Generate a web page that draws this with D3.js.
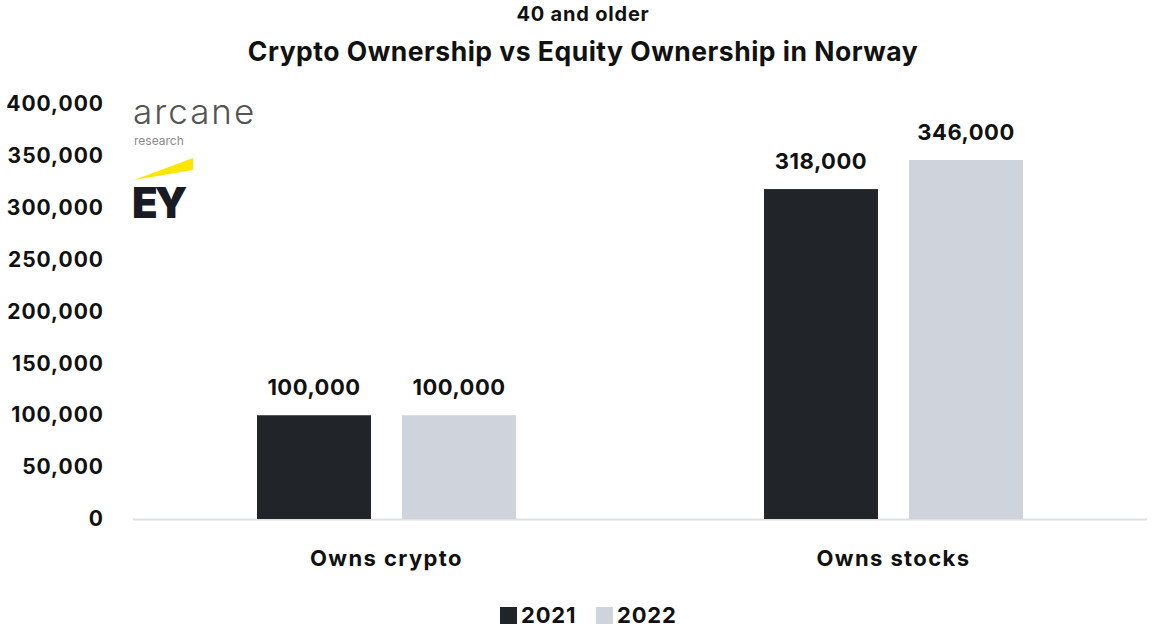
<!DOCTYPE html>
<html>
<head>
<meta charset="utf-8">
<script src="https://cdn.jsdelivr.net/npm/d3@7"></script>
<style>
  html, body { margin: 0; padding: 0; background: #ffffff; }
  svg { display: block; font-family: "Inter", "Noto Sans", sans-serif; }
</style>
</head>
<body>
<svg id="chart" width="1152" height="630"></svg>
<script>
// Ownership counts, Norway, age 40 and older
const categories = ["Owns crypto", "Owns stocks"];
const years = ["2021", "2022"];
const values2021 = [100000, 318000];
const values2022 = [100000, 346000];
const yTicks = [0, 50000, 100000, 150000, 200000, 250000, 300000, 350000, 400000];

const colors = { "2021": "#212429", "2022": "#cfd4dc" };

const svg = d3.select("#chart");
const margin = { left: 133, right: 5, top: 104, bottom: 111 };
const W = 1152, H = 630;

const x0 = d3.scaleBand().domain(categories).range([margin.left, W - margin.right]);
// bar pair sits inside each category band
const x1 = d3.scaleBand().domain(years).range([124, 383]).paddingInner(0.214).paddingOuter(0);
const y = d3.scaleLinear().domain([0, 400000]).range([H - margin.bottom, margin.top]);

// Titles
svg.append("text").attr("x", 583).attr("y", 21).attr("text-anchor", "middle")
  .attr("font-size", 20).attr("font-weight", 700).attr("letter-spacing", 0.8).attr("fill", "#111")
  .text("40 and older");
svg.append("text").attr("x", 583).attr("y", 61).attr("text-anchor", "middle")
  .attr("font-size", 26.5).attr("font-weight", 700).attr("letter-spacing", 0.5).attr("fill", "#111")
  .text("Crypto Ownership vs Equity Ownership in Norway");

// Y axis labels
const yAxis = d3.axisLeft(y).tickValues(yTicks).tickFormat(d3.format(",")).tickSize(0).tickPadding(0);
const yg = svg.append("g").attr("transform", "translate(104,0)").call(yAxis);
yg.select(".domain").remove();
yg.selectAll("text").attr("font-size", 21).attr("font-weight", 700).attr("letter-spacing", 1)
  .attr("fill", "#111").attr("font-family", "Inter, 'Noto Sans', sans-serif");

// Baseline
svg.append("line").attr("x1", margin.left).attr("x2", W - margin.right)
  .attr("y1", y(0) + 0.5).attr("y2", y(0) + 0.5).attr("stroke", "#dde1e6").attr("stroke-width", 2);

// Bars
const rows = categories.map((c, i) => ({ cat: c, vals: [
  { year: "2021", v: values2021[i] }, { year: "2022", v: values2022[i] } ] }));

const groups = svg.selectAll("g.cat").data(rows).enter().append("g")
  .attr("class", "cat").attr("transform", d => `translate(${x0(d.cat)},0)`);

groups.selectAll("rect").data(d => d.vals).enter().append("rect")
  .attr("x", d => x1(d.year)).attr("width", x1.bandwidth())
  .attr("y", d => y(d.v)).attr("height", d => y(0) - y(d.v))
  .attr("fill", d => colors[d.year]);

groups.selectAll("text.val").data(d => d.vals).enter().append("text")
  .attr("class", "val")
  .attr("x", d => x1(d.year) + x1.bandwidth() / 2).attr("y", d => y(d.v) - 20)
  .attr("text-anchor", "middle").attr("font-size", 22).attr("font-weight", 700)
  .attr("letter-spacing", 0.5).attr("fill", "#111")
  .text(d => d3.format(",")(d.v));

// Category axis
const xAxis = d3.axisBottom(x0).tickSize(0).tickPadding(0);
const xg = svg.append("g").attr("transform", `translate(0,${y(0) + 47})`).call(xAxis);
xg.select(".domain").remove();
xg.selectAll("text").attr("font-size", 22).attr("font-weight", 700).attr("letter-spacing", 1.4)
  .attr("fill", "#111").attr("font-family", "Inter, 'Noto Sans', sans-serif").attr("dy", "0");

// Legend
const legend = svg.append("g").attr("transform", "translate(500,606)");
const legendItems = [{ year: "2021", x: 0 }, { year: "2022", x: 96 }];
legendItems.forEach(it => {
  legend.append("rect").attr("x", it.x).attr("y", 1).attr("width", 17).attr("height", 17).attr("fill", colors[it.year]);
  legend.append("text").attr("x", it.x + 21).attr("y", 17).attr("font-size", 22).attr("font-weight", 700)
    .attr("letter-spacing", 0.8).attr("fill", "#111").text(it.year);
});

// Brand marks
const brand = svg.append("g");
brand.append("text").attr("x", 133).attr("y", 124).attr("font-size", 35).attr("font-weight", 300)
  .attr("fill", "#555").attr("letter-spacing", 2).text("arcane");
brand.append("text").attr("x", 134).attr("y", 145).attr("font-size", 12).attr("font-weight", 400)
  .attr("fill", "#8a8a8a").text("research");
brand.append("polygon").attr("points", "134,180 193,158 193,170").attr("fill", "#ffe600");
brand.append("text").attr("x", 132).attr("y", 218).attr("font-size", 42).attr("font-weight", 900)
  .attr("fill", "#1a1a24").attr("letter-spacing", -3).text("EY");
</script>
</body>
</html>
